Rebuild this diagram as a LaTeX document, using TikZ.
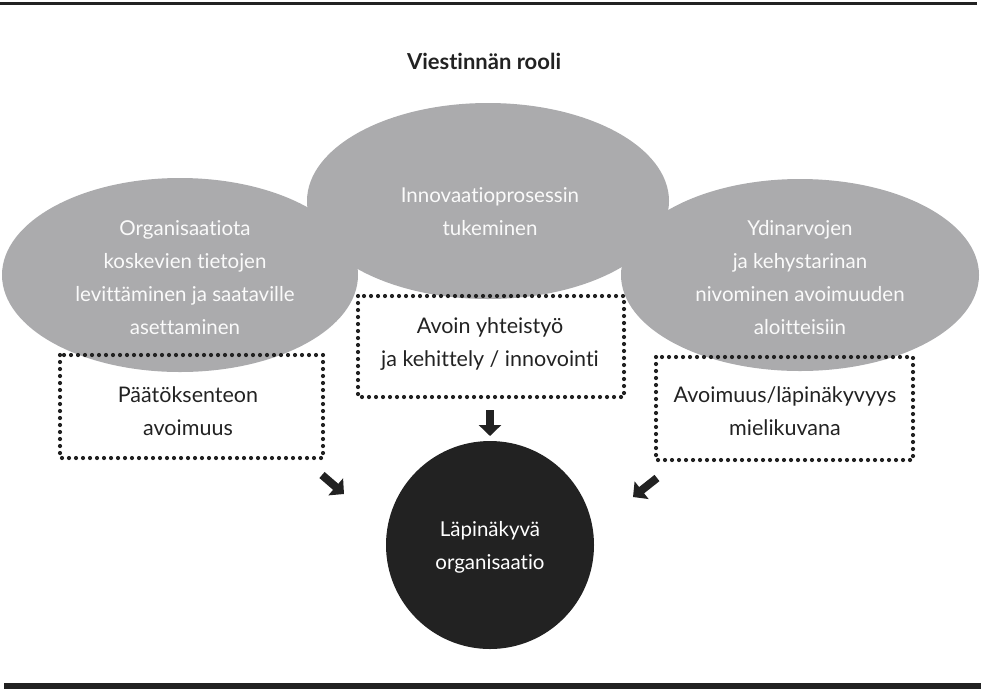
\documentclass[tikz,border=0pt]{standalone}
\usepackage{fontspec}
\setmainfont{Lato}[Ligatures={NoCommon}]
\usetikzlibrary{arrows.meta}
\definecolor{ellgray}{RGB}{171,171,173}
\definecolor{darkfill}{RGB}{34,34,34}
\definecolor{lighttext}{RGB}{250,250,250}
\tikzset{
  elltext/.style={text=lighttext, align=center, font=\fontsize{20.5}{33}\selectfont},
  dotbox/.style={draw=darkfill, line width=4.2pt, line cap=round, dash pattern=on 0pt off 7pt},
  boxtext/.style={text=darkfill, align=center, font=\fontsize{21.5}{33}\selectfont},
  blockarrow/.style={draw=darkfill, line width=8pt, -{Triangle[length=11pt,width=22pt]}},
}
\begin{document}
\begin{tikzpicture}[x=1pt,y=-1pt]
\useasboundingbox (0,0) rectangle (981,689);
% rules
\fill[darkfill] (0,1.5) rectangle (977,4.5);
\fill[darkfill] (4,683) rectangle (981,689);
% title
\node[font=\bfseries\fontsize{22}{26}\selectfont, text=darkfill] (title) at (484,61) {Viestinnän rooli};
% ellipses
\fill[ellgray] (180,275) ellipse [x radius=178, y radius=97];
\fill[ellgray] (800,275) ellipse [x radius=179, y radius=96];
\fill[ellgray] (488,201) ellipse [x radius=181, y radius=98];
\node[elltext] (L) at (185,278) {Organisaatiota\\koskevien tietojen\\levittäminen ja saataville\\asettaminen};
\node[elltext] (C) at (490,212) {Innovaatioprosessin\\tukeminen};
\node[elltext] (R) at (800,278) {Ydinarvojen\\ja kehystarinan\\nivominen avoimuuden\\aloitteisiin};
% dotted boxes
\draw[dotbox] (60,355) rectangle (323,458);
\draw[dotbox] (358,296) rectangle (624,397);
\draw[dotbox] (656,357) rectangle (913,460);
\node[boxtext] (bl) at (188,411) {Päätöksenteon\\avoimuus};
\node[boxtext] (bc) at (490,344) {Avoin yhteistyö\\ja kehittely / innovointi};
\node[boxtext] (br) at (785,411) {Avoimuus/läpinäkyvyys\\mielikuvana};
% circle
\fill[darkfill] (490,545) circle [radius=104];
\node[elltext, text=white] (O) at (490,547) {Läpinäkyvä\\organisaatio};
% arrows
\coordinate (a1s) at (322,475);
\coordinate (a1e) at (344,494);
\coordinate (a2s) at (490,410);
\coordinate (a2e) at (490,436);
\coordinate (a3s) at (657,478);
\coordinate (a3e) at (633,497);
\draw[blockarrow] (a1s) -- (a1e);
\draw[blockarrow] (a2s) -- (a2e);
\draw[blockarrow] (a3s) -- (a3e);
\end{tikzpicture}
\end{document}
